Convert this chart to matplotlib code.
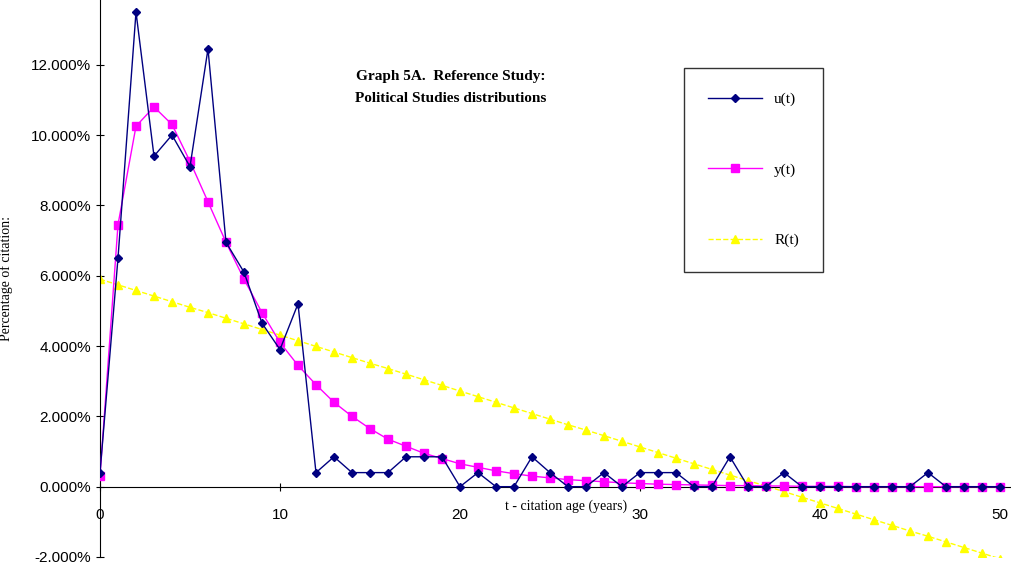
import matplotlib.pyplot as plt
from matplotlib.ticker import FuncFormatter

t = list(range(51))
u = [0.4, 6.5, 13.5, 9.4, 10.0, 9.1, 12.45, 6.95, 6.1, 4.65, 3.9, 5.2, 0.4, 0.85, 0.4, 0.4, 0.4,
     0.85, 0.85, 0.85, 0.0, 0.4, 0.0, 0.0, 0.85, 0.4, 0.0, 0.0, 0.4, 0.0, 0.4, 0.4, 0.4, 0.0,
     0.0, 0.85, 0.0, 0.0, 0.4, 0.0, 0.0, 0.0, 0.0, 0.0, 0.0, 0.0, 0.4, 0.0, 0.0, 0.0, 0.0]
y = [0.3, 7.45, 10.25, 10.8, 10.3, 9.25, 8.1, 6.95, 5.9, 4.95, 4.1, 3.45, 2.9, 2.4, 2.0, 1.65,
     1.35, 1.15, 0.95, 0.8, 0.65, 0.55, 0.45, 0.37, 0.3, 0.25, 0.2, 0.17, 0.14, 0.11, 0.09,
     0.07, 0.06, 0.05, 0.04, 0.03, 0.03, 0.02, 0.02, 0.01, 0.01, 0.01, 0.0, 0.0, 0.0, 0.0,
     0.0, 0.0, 0.0, 0.0, 0.0]
R = [5.9, 5.74, 5.58, 5.42, 5.26, 5.10, 4.95, 4.79, 4.63, 4.47, 4.31, 4.15, 3.99, 3.83, 3.67,
     3.51, 3.36, 3.20, 3.04, 2.88, 2.72, 2.56, 2.40, 2.24, 2.08, 1.92, 1.76, 1.61, 1.45, 1.29,
     1.13, 0.97, 0.81, 0.65, 0.49, 0.33, 0.17, 0.02, -0.14, -0.30, -0.46, -0.62, -0.78, -0.94,
     -1.10, -1.26, -1.41, -1.57, -1.73, -1.89, -2.05]

plt.rcParams['font.family'] = 'Liberation Serif'
fig = plt.figure(figsize=(10.12, 5.67), dpi=100)
ax = fig.add_axes([100/1012, 10/567, 912/1012, 557/567])

ax.plot(t, R, color='#ffff00', marker='^', ms=6, lw=1, ls='--', label='R(t)', zorder=2)
ax.plot(t, y, color='#ff00ff', marker='s', ms=5.5, lw=1, label='y(t)', zorder=3)
ax.plot(t, u, color='#000080', marker='D', ms=4.5, lw=1, label='u(t)', zorder=4)

ax.set_xlim(0, 50.67)
ax.set_ylim(-2.0, 13.84)
ax.set_yticks([-2, 0, 2, 4, 6, 8, 10, 12])
ax.yaxis.set_major_formatter(FuncFormatter(lambda v, p: '%.3f%%' % v))
ax.set_xticks([0, 10, 20, 30, 40, 50])
ax.spines['right'].set_visible(False)
ax.spines['top'].set_visible(False)
ax.spines['bottom'].set_position(('data', 0))
ax.tick_params(axis='x', direction='inout', length=6, pad=12, labelsize=11)
ax.tick_params(axis='y', direction='inout', length=6, labelsize=11)
for lab in ax.get_xticklabels() + ax.get_yticklabels():
    lab.set_fontfamily('Liberation Sans')
ax.set_ylabel('Percentage of citation:', fontsize=10)
ax.yaxis.set_label_coords(-0.095, 0.5)
ax.text(22.5, -0.55, 't - citation age (years)', fontsize=10, va='center')
ax.text(19.5, 11.35, 'Graph 5A.  Reference Study:\nPolitical Studies distributions',
        fontsize=11, fontweight='bold', ha='center', va='center', linespacing=1.9)

handles, labels = ax.get_legend_handles_labels()
leg = ax.legend(handles[::-1], labels[::-1], loc='upper left',
                bbox_to_anchor=(584/912, 1 - 68/557), borderaxespad=0,
                fontsize=11, frameon=True, fancybox=False, edgecolor='black',
                labelspacing=3.7, borderpad=1.6, handlelength=3.5)
leg.get_frame().set_linewidth(1)

fig.savefig('out.png', dpi=100)
